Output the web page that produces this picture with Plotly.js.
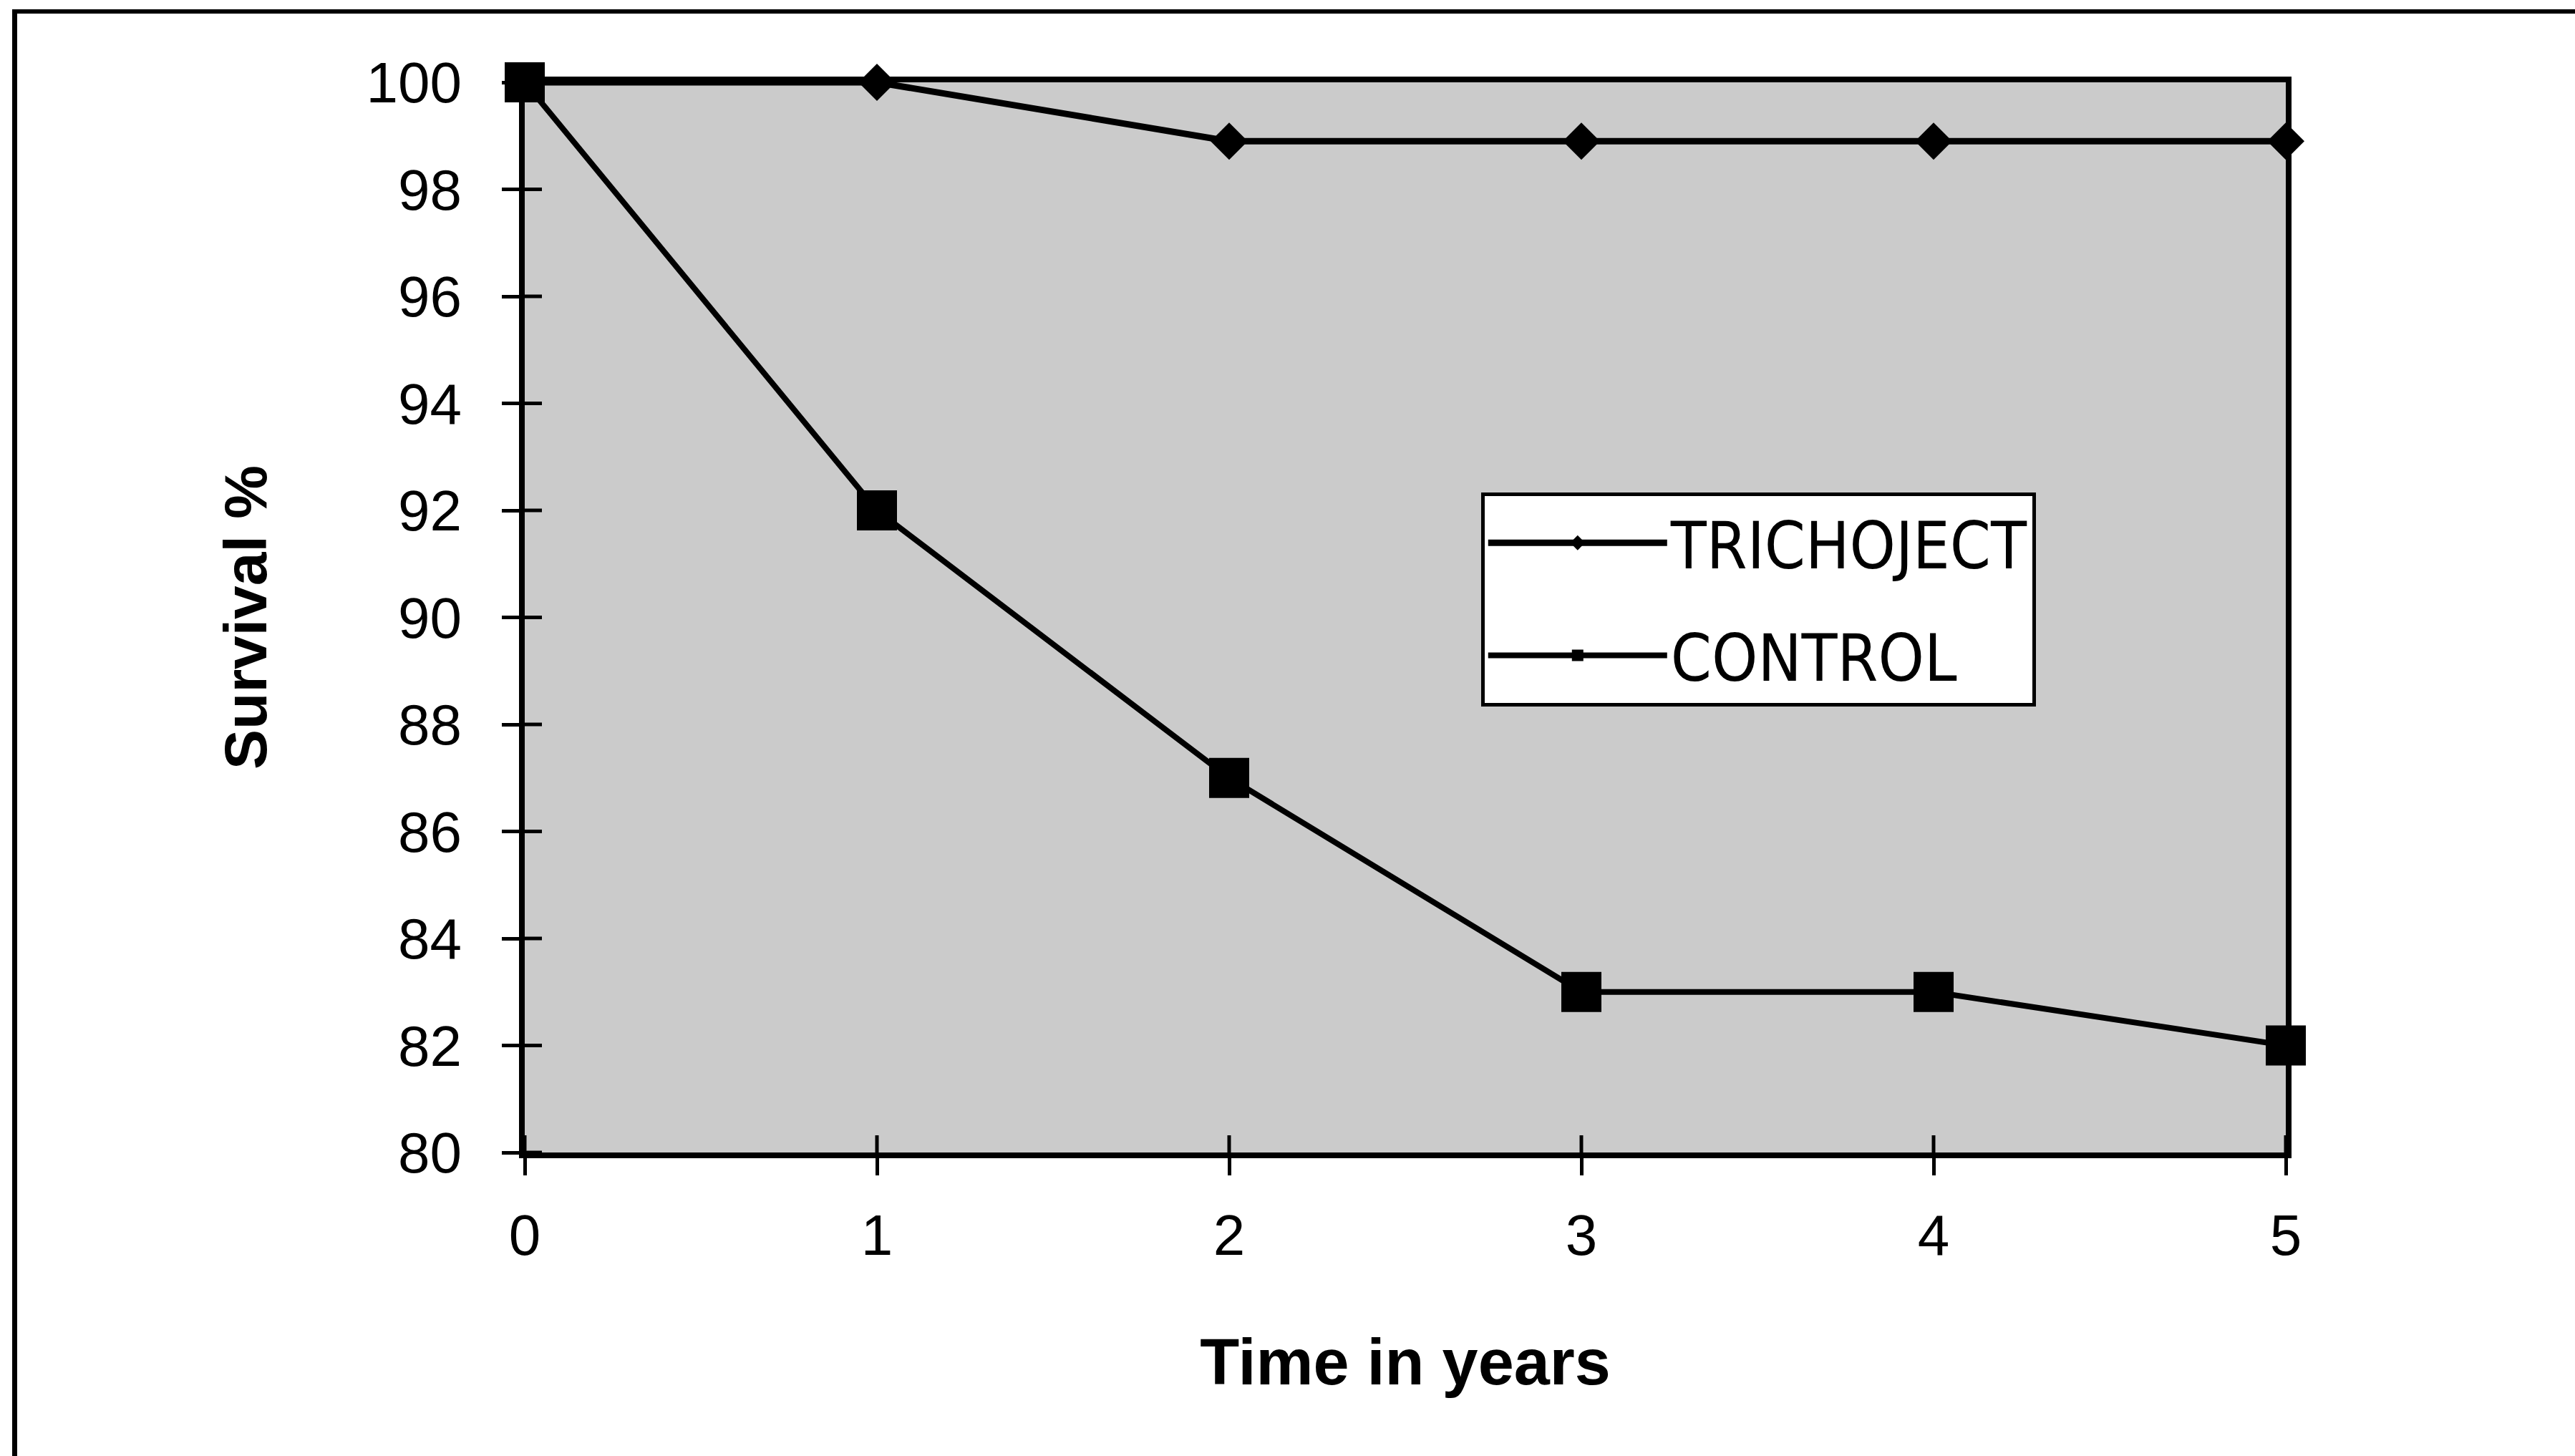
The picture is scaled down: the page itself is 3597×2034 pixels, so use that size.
<!DOCTYPE html>
<html>
<head>
<meta charset="utf-8">
<script src="https://cdn.plot.ly/plotly-3.0.1.min.js"></script>
<style>
  html, body { margin: 0; padding: 0; background: #ffffff; }
  #wrap { position: relative; width: 3597px; height: 2034px; overflow: hidden; }
  #chart { width: 3597px; height: 2034px; }
  #frame { position: absolute; left: 17px; top: 13px; width: 3576px; height: 2100px;
           border-left: 7px solid #000; border-top: 6px solid #000; border-right: 6px solid #000;
           pointer-events: none; }
</style>
</head>
<body>
<div id="wrap">
  <div id="chart"></div>
  <div id="frame"></div>
</div>
<script>
// ---- data ----
const years = [0, 1, 2, 3, 4, 5];
const trichoject = [100, 100, 98.9, 98.9, 98.9, 98.9];
const control = [100, 92, 87, 83, 83, 82];
const seriesNames = ["TRICHOJECT", "CONTROL"];
const xTickVals = [0, 1, 2, 3, 4, 5];
const yTickVals = [80, 82, 84, 86, 88, 90, 92, 94, 96, 98, 100];
const xTitle = "Time in years";
const yTitle = "Survival %";

const FONT = "Liberation Sans, Arial, sans-serif";

// pick a condensed face for the legend if one is installed, and size it to the reference width
function measure(fam, size, txt) {
  const c = document.createElement("canvas").getContext("2d");
  c.font = size + "px " + fam;
  return c.measureText(txt).width;
}
function pickLegendFont() {
  const cands = ["Liberation Sans Narrow", "DejaVu Sans Condensed", "Liberation Sans"];
  for (const f of cands) {
    const a = measure('"' + f + '", monospace', 100, "TRICHOJECT");
    const b = measure('monospace', 100, "TRICHOJECT");
    if (Math.abs(a - b) > 0.5) {
      let size = Math.round(100 * 495 / a);
      size = Math.min(size, 94);
      return { family: '"' + f + '", ' + FONT, size: size };
    }
  }
  return { family: FONT, size: 76 };
}
const LF = pickLegendFont();

const TICK_IN = 24;
const tickStyle = { color: "#000", width: 5 };
// inner half of the crossing ticks, placed at the axis tick values
const innerTicks = [].concat(
  yTickVals.map(v => ({
    type: "line", layer: "above", xref: "x", yref: "y",
    xsizemode: "pixel", xanchor: 0, x0: 0, x1: TICK_IN, y0: v, y1: v, line: tickStyle
  })),
  xTickVals.map(v => ({
    type: "line", layer: "above", xref: "x", yref: "y",
    ysizemode: "pixel", yanchor: 80, y0: 0, y1: TICK_IN, x0: v, x1: v, line: tickStyle
  }))
);

const traces = [
  {
    x: years, y: trichoject, name: seriesNames[0], type: "scatter", mode: "lines+markers",
    line: { color: "#000", width: 9 },
    marker: { symbol: "diamond", size: 40, color: "#000" },
    cliponaxis: false, legendgroup: "a"
  },
  {
    x: years, y: control, name: seriesNames[1], type: "scatter", mode: "lines+markers",
    line: { color: "#000", width: 8 },
    marker: { symbol: "square", size: 56, color: "#000" },
    cliponaxis: false, legendgroup: "b"
  }
];

const layout = {
  width: 3597, height: 2034,
  paper_bgcolor: "#ffffff",
  plot_bgcolor: "#cbcbcb",
  margin: { l: 733, r: 404, t: 115, b: 424, pad: 0 },
  showlegend: true,
  legend: {
    x: 0.543, y: 0.617, xanchor: "left", yanchor: "top",
    bgcolor: "#ffffff", bordercolor: "#000", borderwidth: 5,
    font: { family: LF.family, size: LF.size, color: "#000" },
    itemwidth: 250, tracegroupgap: 36
  },
  shapes: innerTicks,
  xaxis: {
    range: [0, 5], tickvals: xTickVals, ticktext: xTickVals.map(String),
    ticks: "outside", ticklen: 24, tickwidth: 5, tickcolor: "#000",
    showline: true, linecolor: "#000", linewidth: 8, mirror: true,
    showgrid: false, zeroline: false,
    tickfont: { family: FONT, size: 80, color: "#000" },
    ticklabelstandoff: 15,
    title: { text: xTitle, font: { family: FONT, size: 90, color: "#000", weight: "bold" }, standoff: 105 }
  },
  yaxis: {
    range: [80, 100], tickvals: yTickVals, ticktext: yTickVals.map(String),
    ticks: "outside", ticklen: 24, tickwidth: 5, tickcolor: "#000",
    showline: true, linecolor: "#000", linewidth: 8, mirror: true,
    showgrid: false, zeroline: false,
    tickfont: { family: FONT, size: 80, color: "#000" },
    ticklabelstandoff: 40,
    title: { text: yTitle, font: { family: FONT, size: 84, color: "#000", weight: "bold" }, standoff: 114 }
  }
};

Plotly.newPlot("chart", traces, layout, { staticPlot: true, displayModeBar: false });
</script>
</body>
</html>
